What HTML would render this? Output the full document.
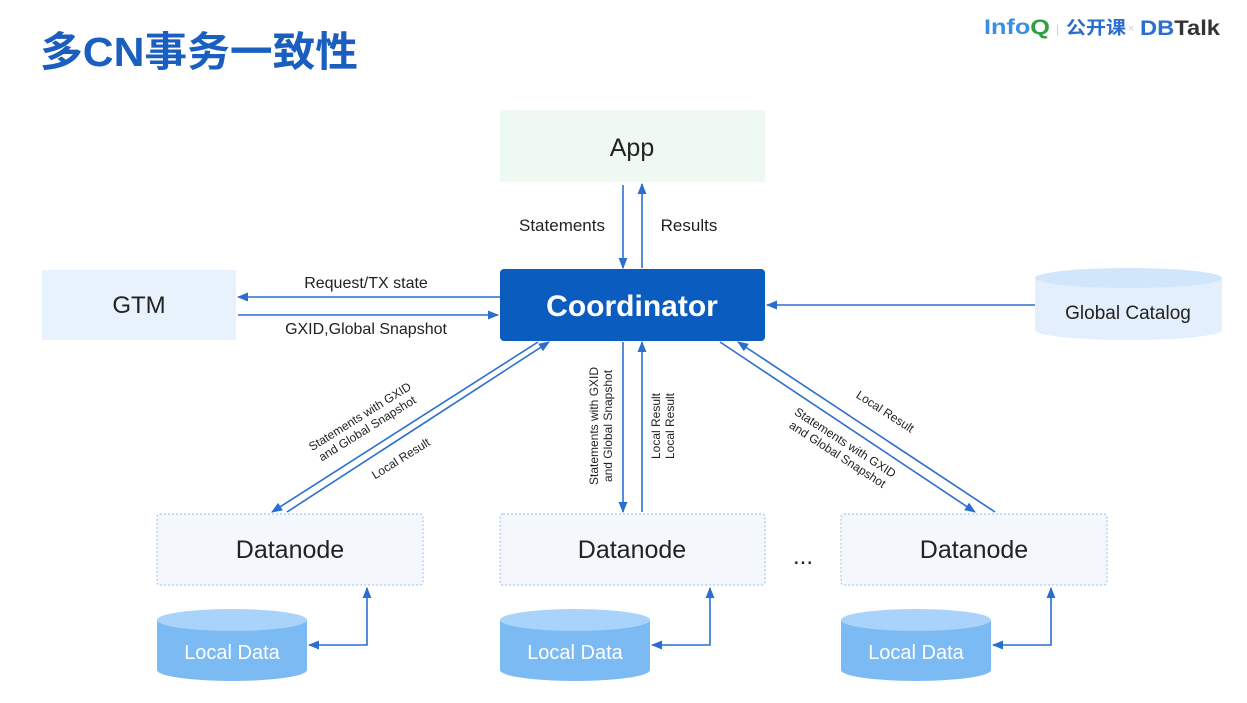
<!DOCTYPE html>
<html><head><meta charset="utf-8"><style>
html,body{margin:0;padding:0;background:#fff;}
svg{display:block;font-family:"Liberation Sans","Noto Sans CJK SC",sans-serif;}
</style></head><body>
<svg width="1247" height="703" viewBox="0 0 1247 703" xmlns="http://www.w3.org/2000/svg">
<defs>
<marker id="a" viewBox="0 0 10 10" refX="9" refY="5" markerWidth="7" markerHeight="7" orient="auto-start-reverse"><path d="M0,1 L10,5 L0,9 z" fill="#2a6fce"/></marker>
</defs>
<text x="40" y="66" font-size="41" font-weight="bold" fill="#1a5fc0" textLength="318" lengthAdjust="spacingAndGlyphs" font-family="'Liberation Sans','Noto Sans CJK SC',sans-serif">多CN事务一致性</text>
<text x="984" y="34" font-size="21" font-weight="bold" fill="#3a8ee6" textLength="66" lengthAdjust="spacingAndGlyphs">Info<tspan fill="#2ea043">Q</tspan></text>
<text x="1056" y="33" font-size="12" fill="#ccc">|</text>
<text x="1066" y="34" font-size="18" font-weight="bold" fill="#2a6fce" textLength="60" lengthAdjust="spacingAndGlyphs" font-family="'Noto Sans CJK SC',sans-serif">公开课</text>
<text x="1128" y="32" font-size="11" fill="#ccc">×</text>
<text x="1140" y="35" font-size="21" font-weight="bold" fill="#333" textLength="80" lengthAdjust="spacingAndGlyphs"><tspan fill="#2a6fce">DB</tspan>Talk</text>

<g fill="none" stroke="#2a6fce" stroke-width="1.6">
<line x1="623" y1="185" x2="623" y2="268" marker-end="url(#a)"/>
<line x1="642" y1="268" x2="642" y2="184" marker-end="url(#a)"/>
<line x1="500" y1="297" x2="238" y2="297" marker-end="url(#a)"/>
<line x1="238" y1="315" x2="498" y2="315" marker-end="url(#a)"/>
<line x1="1035" y1="305" x2="767" y2="305" marker-end="url(#a)"/>
<line x1="538" y1="342" x2="272" y2="512" marker-end="url(#a)"/>
<line x1="287" y1="512" x2="549" y2="342" marker-end="url(#a)"/>
<line x1="623" y1="342" x2="623" y2="512" marker-end="url(#a)"/>
<line x1="642" y1="512" x2="642" y2="342" marker-end="url(#a)"/>
<line x1="720" y1="342" x2="975" y2="512" marker-end="url(#a)"/>
<line x1="995" y1="512" x2="738" y2="342" marker-end="url(#a)"/>
<polyline points="309,645 367,645 367,588" marker-start="url(#a)" marker-end="url(#a)"/>
<polyline points="652,645 710,645 710,588" marker-start="url(#a)" marker-end="url(#a)"/>
<polyline points="993,645 1051,645 1051,588" marker-start="url(#a)" marker-end="url(#a)"/>
</g>

<rect x="500" y="110" width="265" height="72" fill="#eefaf1"/>
<text x="632" y="156" font-size="25" text-anchor="middle" fill="#222">App</text>
<text x="562" y="231" font-size="17" text-anchor="middle" fill="#222">Statements</text>
<text x="689" y="231" font-size="17" text-anchor="middle" fill="#222">Results</text>

<rect x="42" y="270" width="194" height="70" fill="#e8f2fc"/>
<text x="139" y="313" font-size="24" text-anchor="middle" fill="#222">GTM</text>
<text x="366" y="288" font-size="16" text-anchor="middle" fill="#222">Request/TX state</text>
<text x="366" y="334" font-size="16" text-anchor="middle" fill="#222">GXID,Global Snapshot</text>

<rect x="500" y="269" width="265" height="72" rx="4" fill="#0b5cbf"/>
<text x="632" y="316" font-size="30" font-weight="bold" text-anchor="middle" fill="#fff">Coordinator</text>

<path d="M1035,278 L1035,330 A93,10 0 0 0 1222,330 L1222,278 Z" fill="#e3effc"/>
<ellipse cx="1128.5" cy="278" rx="93.5" ry="10" fill="#d2e6fb"/>
<text x="1128" y="319" font-size="19" text-anchor="middle" fill="#222">Global Catalog</text>

<g fill="#222" font-size="12" text-anchor="middle">
<text transform="translate(362,420) rotate(-32)"><tspan x="0" y="0">Statements with GXID</tspan><tspan x="0" y="14">and Global Snapshot</tspan></text>
<text transform="translate(403,462) rotate(-32)">Local Result</text>
<text transform="translate(598,426) rotate(-90)"><tspan x="0" y="0">Statements with GXID</tspan><tspan x="0" y="14">and Global Snapshot</tspan></text>
<text transform="translate(660,426) rotate(-90)"><tspan x="0" y="0">Local Result</tspan><tspan x="0" y="14">Local Result</tspan></text>
<text transform="translate(883,415) rotate(33)">Local Result</text>
<text transform="translate(843,446) rotate(33)"><tspan x="0" y="0">Statements with GXID</tspan><tspan x="0" y="14">and Global Snapshot</tspan></text>
</g>

<g fill="#f4f8fd" stroke="#a8c8ec" stroke-width="1.2" stroke-dasharray="2,2">
<rect x="157" y="514" width="266" height="71" rx="3"/>
<rect x="500" y="514" width="265" height="71" rx="3"/>
<rect x="841" y="514" width="266" height="71" rx="3"/>
</g>
<g font-size="25" text-anchor="middle" fill="#222">
<text x="290" y="558">Datanode</text>
<text x="632" y="558">Datanode</text>
<text x="974" y="558">Datanode</text>
</g>
<text x="803" y="564" font-size="24" text-anchor="middle" fill="#222">...</text>

<g>
<path d="M157,620 L157,670 A75,11 0 0 0 307,670 L307,620 Z" fill="#7cbaf3"/>
<ellipse cx="232" cy="620" rx="75" ry="11" fill="#a9d3fa"/>
<path d="M500,620 L500,670 A75,11 0 0 0 650,670 L650,620 Z" fill="#7cbaf3"/>
<ellipse cx="575" cy="620" rx="75" ry="11" fill="#a9d3fa"/>
<path d="M841,620 L841,670 A75,11 0 0 0 991,670 L991,620 Z" fill="#7cbaf3"/>
<ellipse cx="916" cy="620" rx="75" ry="11" fill="#a9d3fa"/>
</g>
<g font-size="20" text-anchor="middle" fill="#fff">
<text x="232" y="659">Local Data</text>
<text x="575" y="659">Local Data</text>
<text x="916" y="659">Local Data</text>
</g>
</svg>
</body></html>
